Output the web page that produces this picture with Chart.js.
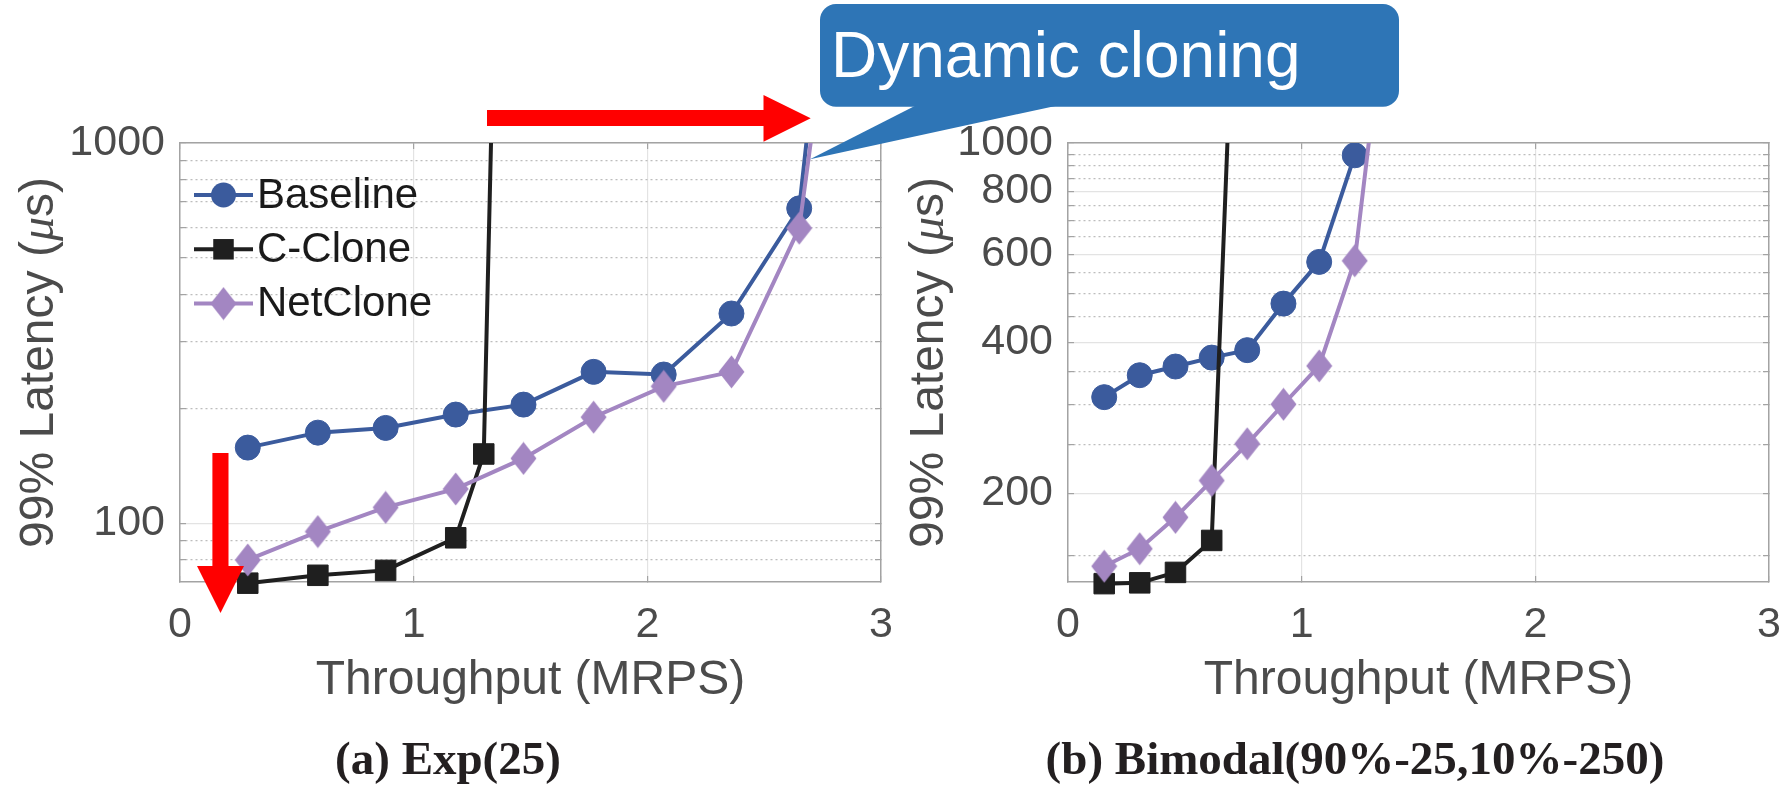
<!DOCTYPE html>
<html>
<head>
<meta charset="utf-8">
<script src="https://cdn.jsdelivr.net/npm/chart.js@4/dist/chart.umd.min.js"></script>
<style>
  html, body { margin: 0; padding: 0; background: #ffffff; }
  #wrap { position: relative; width: 1786px; height: 788px; overflow: hidden; background: #ffffff; }
  #wrap canvas { position: absolute; top: 0; }
  #cvExp { left: 0; }
  #cvBim { left: 893px; }
  #notes { position: absolute; left: 0; top: 0; pointer-events: none; }
</style>
</head>
<body>
<div id="wrap">
  <canvas id="cvExp" width="893" height="788"></canvas>
  <canvas id="cvBim" width="893" height="788"></canvas>
  <svg id="notes" width="1786" height="788" xmlns="http://www.w3.org/2000/svg">
    <!-- red arrows -->
    <polygon fill="#ff0000" points="487,110 763.5,110 763.5,95 810.7,118.3 763.5,141.7 763.5,126 487,126"/>
    <polygon fill="#ff0000" points="212.4,453 228.5,453 228.5,566 244,566 220.5,613 197,566 212.4,566"/>
    <!-- callout -->
    <rect x="820" y="4" width="579" height="102.7" rx="16" ry="16" fill="#2e75b6"/>
    <polygon fill="#2e75b6" points="916.7,105 810,159.3 1060,105"/>
    <text x="831" y="77" font-family="'Liberation Sans', Arial, sans-serif" font-size="64" fill="#ffffff">Dynamic cloning</text>
  </svg>
</div>
<script>
// Series names shown in the key
const seriesNames = ['Baseline', 'C-Clone', 'NetClone'];

// (a) Exp(25): throughput (MRPS) and 99% latency (us)
const expBaselineX = [0.29, 0.59, 0.88, 1.18, 1.47, 1.77, 2.07, 2.36, 2.65, 2.75];
const expBaselineY = [158, 173, 178, 193, 205, 250, 246, 356, 673, 2450];
const expCCloneX   = [0.29, 0.59, 0.88, 1.18, 1.30, 1.36];
const expCCloneY   = [69.5, 72.9, 75.1, 91.5, 152, 5830];
const expNetCloneX = [0.29, 0.59, 0.88, 1.18, 1.47, 1.77, 2.07, 2.36, 2.65, 2.75];
const expNetCloneY = [80, 95, 110, 123, 148, 190, 229, 250, 597, 1715];

// (b) Bimodal(90%-25,10%-250)
const bimBaselineX = [0.155, 0.307, 0.46, 0.615, 0.767, 0.922, 1.075, 1.227, 1.26];
const bimBaselineY = [311, 344, 358, 373, 386, 478, 579, 945, 3000];
const bimCCloneX   = [0.155, 0.307, 0.46, 0.615, 0.767];
const bimCCloneY   = [132, 132.5, 139, 161, 10000];
const bimNetCloneX = [0.155, 0.307, 0.46, 0.615, 0.767, 0.922, 1.075, 1.227, 1.38];
const bimNetCloneY = [143, 155, 179, 212, 251, 301, 359, 582, 2310];

// Axis ticks and grid values
const xTickValues = [0, 1, 2, 3];
const expYGrid   = [80, 90, 100, 200, 300, 400, 500, 600, 700, 800, 900, 1000];
const expYLabels = [100, 1000];
const bimYGrid   = [150, 200, 250, 300, 350, 400, 450, 500, 550, 600, 650, 700, 750, 800, 850, 900, 950, 1000];
const bimYLabels = [200, 400, 600, 800, 1000];

const captions = ['(a) Exp(25)', '(b) Bimodal(90%-25,10%-250)'];

// ---------- styling ----------
const SANS = "'Liberation Sans', Arial, Helvetica, sans-serif";
const SERIF = "'Liberation Serif', 'Times New Roman', serif";
const TEXT_GREY = '#4b4b4b';
const BOX_GREY = '#a3a3a3';
const GRID_SOLID = '#e3e3e3';
const GRID_DOT = '#bdbdbd';
const LINE_W = 4;

function diamondMarker(color, w, h) {
  const c = document.createElement('canvas');
  c.width = w; c.height = h;
  const g = c.getContext('2d');
  g.fillStyle = color;
  g.beginPath();
  g.moveTo(w / 2, 0.5);
  g.lineTo(w - 0.5, h / 2);
  g.lineTo(w / 2, h - 0.5);
  g.lineTo(0.5, h / 2);
  g.closePath();
  g.fill();
  return c;
}

const seriesStyle = {
  'Baseline': { color: '#3b5b9d', point: 'circle', radius: 12.5, order: 2 },
  'C-Clone':  { color: '#1f1f1f', point: 'rect', radius: 14.5, order: 1 },
  'NetClone': { color: '#a386c2', point: diamondMarker('#a386c2', 27, 34), radius: 15, order: 0 }
};

function drawMarker(ctx, st, x, y) {
  ctx.fillStyle = st.color;
  if (st.point === 'circle') {
    ctx.beginPath(); ctx.arc(x, y, st.radius, 0, Math.PI * 2); ctx.fill();
  } else if (st.point === 'rect') {
    const s = st.radius * Math.SQRT1_2;
    ctx.fillRect(x - s, y - s, 2 * s, 2 * s);
  } else {
    ctx.drawImage(st.point, x - st.point.width / 2, y - st.point.height / 2);
  }
}

// Rotated y-axis title with an italic mu
const yTitlePlugin = {
  id: 'yTitle',
  afterDraw(chart, args, opts) {
    const ctx = chart.ctx;
    const a = chart.chartArea;
    const parts = [
      { t: '99% Latency (', f: '48px ' + SANS },
      { t: '\u03bc', f: 'italic 48px ' + SERIF },
      { t: 's)', f: '48px ' + SANS }
    ];
    ctx.save();
    let total = 0;
    parts.forEach(p => { ctx.font = p.f; p.w = ctx.measureText(p.t).width; total += p.w; });
    ctx.translate(opts.x, (a.top + a.bottom) / 2);
    ctx.rotate(-Math.PI / 2);
    ctx.fillStyle = TEXT_GREY;
    ctx.textBaseline = 'alphabetic';
    ctx.textAlign = 'left';
    let x = -total / 2;
    parts.forEach(p => { ctx.font = p.f; ctx.fillText(p.t, x, 0); x += p.w; });
    ctx.restore();
  }
};

// Key drawn inside the plot area: line segment, marker, name
const keyPlugin = {
  id: 'seriesKey',
  afterDatasetsDraw(chart, args, opts) {
    if (!opts.show) return;
    const ctx = chart.ctx;
    ctx.save();
    seriesNames.forEach((name, i) => {
      const st = seriesStyle[name];
      const y = opts.y0 + i * opts.dy;
      ctx.strokeStyle = st.color;
      ctx.lineWidth = LINE_W;
      ctx.beginPath(); ctx.moveTo(opts.x0, y); ctx.lineTo(opts.x1, y); ctx.stroke();
      drawMarker(ctx, st, (opts.x0 + opts.x1) / 2, y);
      ctx.fillStyle = '#1a1a1a';
      ctx.font = '42px ' + SANS;
      ctx.textBaseline = 'middle';
      ctx.textAlign = 'left';
      ctx.fillText(name, opts.tx, y + 1);
    });
    ctx.restore();
  }
};

function logScale(pos, grid, labels, min, width, showLabels) {
  const isMajor = v => labels.includes(v);
  return {
    type: 'logarithmic',
    position: pos,
    min: min,
    max: 1000,
    afterBuildTicks: ax => { ax.ticks = grid.map(v => ({ value: v })); },
    afterFit: ax => { ax.width = width; ax.paddingTop = 0; ax.paddingBottom = 0; },
    ticks: {
      display: showLabels,
      autoSkip: false,
      padding: 21,
      color: TEXT_GREY,
      font: { family: SANS, size: 43 },
      callback: v => (labels.includes(v) ? String(v) : '')
    },
    grid: {
      drawOnChartArea: showLabels,
      color: c => (c.tick && isMajor(c.tick.value) ? GRID_SOLID : GRID_DOT),
      lineWidth: 1.2,
      drawTicks: true,
      tickLength: -6,
      tickColor: BOX_GREY,
      tickWidth: 1.2
    },
    border: {
      display: true,
      color: BOX_GREY,
      width: 1.5,
      dash: c => (c.type === 'tick' && c.tick && !isMajor(c.tick.value) ? [2, 3] : [])
    }
  };
}

function linScale(pos, height, showLabels) {
  return {
    type: 'linear',
    position: pos,
    min: 0,
    max: 3,
    afterBuildTicks: ax => { ax.ticks = xTickValues.map(v => ({ value: v })); },
    afterFit: ax => { ax.height = height; ax.paddingLeft = 0; ax.paddingRight = 0; },
    ticks: {
      display: showLabels,
      autoSkip: false,
      maxRotation: 0,
      padding: 23,
      color: TEXT_GREY,
      font: { family: SANS, size: 43 }
    },
    grid: {
      drawOnChartArea: showLabels,
      color: GRID_SOLID,
      lineWidth: 1.2,
      drawTicks: true,
      tickLength: -6,
      tickColor: BOX_GREY,
      tickWidth: 1.2
    },
    border: { display: true, color: BOX_GREY, width: 1.5 },
    title: {
      display: showLabels,
      text: 'Throughput (MRPS)',
      color: TEXT_GREY,
      font: { family: SANS, size: 48 },
      padding: { top: 0, bottom: 28 }
    }
  };
}

function buildPanel(canvasId, panel) {
  const datasets = panel.series.map(s => {
    const st = seriesStyle[s.name];
    return {
      label: s.name,
      data: s.x.map((x, i) => ({ x: x, y: s.y[i] })),
      borderColor: st.color,
      backgroundColor: st.color,
      pointBackgroundColor: st.color,
      pointBorderColor: st.color,
      pointBorderWidth: 1,
      pointStyle: st.point,
      pointRadius: st.radius,
      borderWidth: LINE_W,
      tension: 0,
      order: st.order,
      clip: { left: 30, top: 0, right: 0, bottom: 30 },
      xAxisID: 'x',
      yAxisID: 'y'
    };
  });

  return new Chart(document.getElementById(canvasId), {
    type: 'line',
    data: { datasets: datasets },
    options: {
      responsive: false,
      animation: false,
      devicePixelRatio: 1,
      events: [],
      layout: {
        autoPadding: false,
        padding: { left: panel.padLeft, right: panel.padRight, top: 143, bottom: 0 }
      },
      scales: {
        x: linScale('bottom', 156, true),
        xTop: linScale('top', 0, false),
        y: logScale('left', panel.yGrid, panel.yLabels, panel.yMin, panel.yWidth, true),
        yRight: logScale('right', panel.yGrid, panel.yLabels, panel.yMin, 0, false)
      },
      plugins: {
        legend: { display: false },
        tooltip: { enabled: false },
        title: {
          display: true,
          position: 'bottom',
          text: panel.caption,
          color: '#231f20',
          font: { family: SERIF, weight: 'bold', size: 47, lineHeight: 1 },
          padding: { top: 0, bottom: 3 }
        },
        yTitle: { x: panel.yTitleX },
        seriesKey: { show: panel.key, x0: 194, x1: 253, tx: 257, y0: 195, dy: 54.3 }
      }
    },
    plugins: [yTitlePlugin, keyPlugin]
  });
}

buildPanel('cvExp', {
  caption: captions[0],
  series: [
    { name: seriesNames[0], x: expBaselineX, y: expBaselineY },
    { name: seriesNames[1], x: expCCloneX, y: expCCloneY },
    { name: seriesNames[2], x: expNetCloneX, y: expNetCloneY }
  ],
  yGrid: expYGrid, yLabels: expYLabels, yMin: 70,
  padLeft: 15, padRight: 12, yWidth: 165, yTitleX: 53, key: true
});

buildPanel('cvBim', {
  caption: captions[1],
  series: [
    { name: seriesNames[0], x: bimBaselineX, y: bimBaselineY },
    { name: seriesNames[1], x: bimCCloneX, y: bimCCloneY },
    { name: seriesNames[2], x: bimNetCloneX, y: bimNetCloneY }
  ],
  yGrid: bimYGrid, yLabels: bimYLabels, yMin: 133,
  padLeft: 48, padRight: 17, yWidth: 127, yTitleX: 50, key: false
});
</script>
</body>
</html>
